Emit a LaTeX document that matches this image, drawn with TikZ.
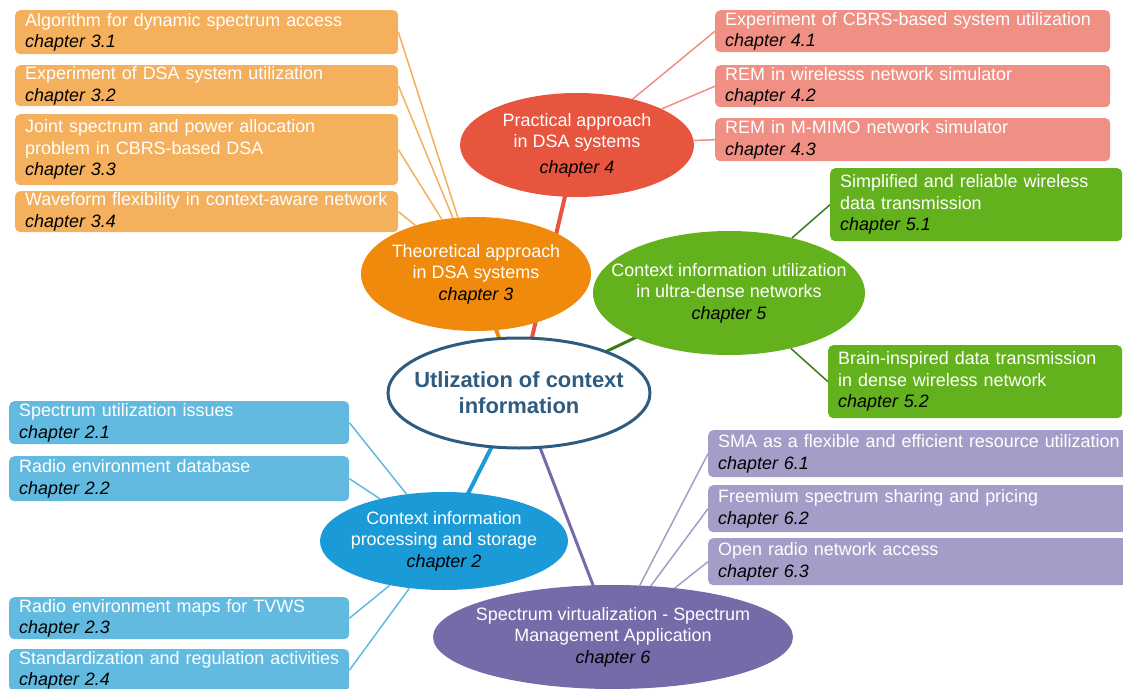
\documentclass[tikz,border=0pt]{standalone}
\usepackage{fontspec}
\setmainfont{Liberation Sans}
\usetikzlibrary{shapes.geometric}

\definecolor{orBox}{HTML}{F4B05C}
\definecolor{orEll}{HTML}{F08A0C}
\definecolor{rdBox}{HTML}{F08F84}
\definecolor{rdEll}{HTML}{E8553F}
\definecolor{gnBox}{HTML}{64B11E}
\definecolor{gnLine}{HTML}{3C7A18}
\definecolor{blBox}{HTML}{62BAE0}
\definecolor{blEll}{HTML}{1A9AD6}
\definecolor{puBox}{HTML}{A39EC8}
\definecolor{puEll}{HTML}{756BA8}
\definecolor{hub}{HTML}{2E5B80}

\newcommand{\chapnum}[1]{{\color{black}\itshape chapter #1}}

\pgfdeclarelayer{background}
\pgfsetlayers{background,main}

\tikzset{
  box/.style={rectangle, rounded corners=5bp, anchor=north west, inner xsep=10bp,
    inner ysep=0pt, align=left, text=white, font=\fontsize{18}{21.5}\selectfont},
  oval/.style={ellipse, inner sep=0pt},
  ovaltext/.style={align=center, text=white, font=\fontsize{18}{21.5}\selectfont},
  twig/.style={line width=1.5bp},
  branch/.style={line width=4bp}
}

\begin{document}
\begin{tikzpicture}[x=1bp,y=-1bp]
\useasboundingbox (0,0) rectangle (1123,689);
\clip (0,0) rectangle (1123,689);

% chapter 3 topics
\node[box, fill=orBox, text width=363bp, minimum height=44bp] (b31) at (15,10) {Algorithm for dynamic spectrum access\\\chapnum{3.1}};
\node[box, fill=orBox, text width=363bp, minimum height=41bp] (b32) at (15,65) {Experiment of DSA system utilization\\\chapnum{3.2}};
\node[box, fill=orBox, text width=363bp, minimum height=71bp] (b33) at (15,114) {Joint spectrum and power allocation\\problem in CBRS-based DSA\\\chapnum{3.3}};
\node[box, fill=orBox, text width=363bp, minimum height=41bp] (b34) at (15,191) {Waveform flexibility in context-aware network\\\chapnum{3.4}};

% chapter 4 topics
\node[box, fill=rdBox, text width=375bp, minimum height=42bp] (b41) at (715,10) {Experiment of CBRS-based system utilization\\\chapnum{4.1}};
\node[box, fill=rdBox, text width=375bp, minimum height=42bp] (b42) at (715,65) {REM in wirelesss network simulator\\\chapnum{4.2}};
\node[box, fill=rdBox, text width=375bp, minimum height=43bp] (b43) at (715,118) {REM in M-MIMO network simulator\\\chapnum{4.3}};

% chapter 5 topics
\node[box, fill=gnBox, text width=272bp, minimum height=73bp] (b51) at (830,168) {Simplified and reliable wireless\\data transmission\\\chapnum{5.1}};
\node[box, fill=gnBox, text width=274bp, minimum height=73bp] (b52) at (828,345) {Brain-inspired data transmission\\in dense wireless network\\\chapnum{5.2}};

% chapter 2 topics
\node[box, fill=blBox, text width=320bp, minimum height=43bp] (b21) at (9,401) {Spectrum utilization issues\\\chapnum{2.1}};
\node[box, fill=blBox, text width=320bp, minimum height=45bp] (b22) at (9,456) {Radio environment database\\\chapnum{2.2}};
\node[box, fill=blBox, text width=320bp, minimum height=42bp] (b23) at (9,597) {Radio environment maps for TVWS\\\chapnum{2.3}};
\node[box, fill=blBox, text width=320bp, minimum height=42bp] (b24) at (9,649) {Standardization and regulation activities\\\chapnum{2.4}};

% chapter 6 topics
\node[box, fill=puBox, text width=420bp, minimum height=47bp] (b61) at (708,430) {SMA as a flexible and efficient resource utilization\\\chapnum{6.1}};
\node[box, fill=puBox, text width=420bp, minimum height=47bp] (b62) at (708,485) {Freemium spectrum sharing and pricing\\\chapnum{6.2}};
\node[box, fill=puBox, text width=420bp, minimum height=47bp] (b63) at (708,538) {Open radio network access\\\chapnum{6.3}};

% chapter ovals
\node[oval, fill=orEll, minimum width=230bp, minimum height=114bp] (e3) at (476,274) {};
\node[oval, fill=rdEll, minimum width=234bp, minimum height=104bp] (e4) at (577,145) {};
\node[oval, fill=gnBox, minimum width=272bp, minimum height=124bp] (e5) at (729,293) {};
\node[oval, fill=blEll, minimum width=248bp, minimum height=98bp] (e2) at (444,541) {};
\node[oval, fill=puEll, minimum width=360bp, minimum height=104bp] (e6) at (613,637) {};
\node[oval, fill=white, draw=hub, line width=3bp, minimum width=262bp, minimum height=110bp] (hubo) at (519,393) {};

\node[ovaltext] (t3) at (e3.center) {Theoretical approach\\in DSA systems\\\chapnum{3}};
\node[ovaltext] (t4) at (e4.center) {Practical approach\\in DSA systems\\[4bp]\chapnum{4}};
\node[ovaltext] (t5) at (e5.center) {Context information utilization\\in ultra-dense networks\\\chapnum{5}};
\node[ovaltext] (t2) at (e2.center) {Context information\\processing and storage\\\chapnum{2}};
\node[ovaltext] (t6) at (e6.center) {Spectrum virtualization - Spectrum\\Management Application\\\chapnum{6}};
\node[align=center, text=hub, font=\fontsize{22}{26}\selectfont\bfseries] (th) at (hubo.center) {Utlization of context\\information};

\begin{pgfonlayer}{background}
% branches from the hub, running beneath the ovals
\draw[branch, orEll] (hubo.center) -- (e3.center);
\draw[branch, rdEll] (hubo.center) -- (e4.center);
\draw[branch, line width=3bp, gnLine] (hubo.center) -- (e5.center);
\draw[branch, blEll] (hubo.center) -- (e2.center);
\draw[branch, line width=3bp, puEll] (hubo.center) -- (e6.center);

% twigs to the topic boxes
\foreach \b in {b31,b32,b33,b34} \draw[twig, orBox] (\b.east) -- (e3);
\foreach \b in {b41,b42,b43} \draw[twig, rdBox] (\b.west) -- (e4);
\foreach \b in {b51,b52} \draw[twig, gnLine] (\b.west) -- (e5);
\foreach \b in {b21,b22,b23,b24} \draw[twig, blBox] (\b.east) -- (e2);
\foreach \b in {b61,b62,b63} \draw[twig, puBox] (\b.west) -- (e6);
\end{pgfonlayer}
\end{tikzpicture}
\end{document}
